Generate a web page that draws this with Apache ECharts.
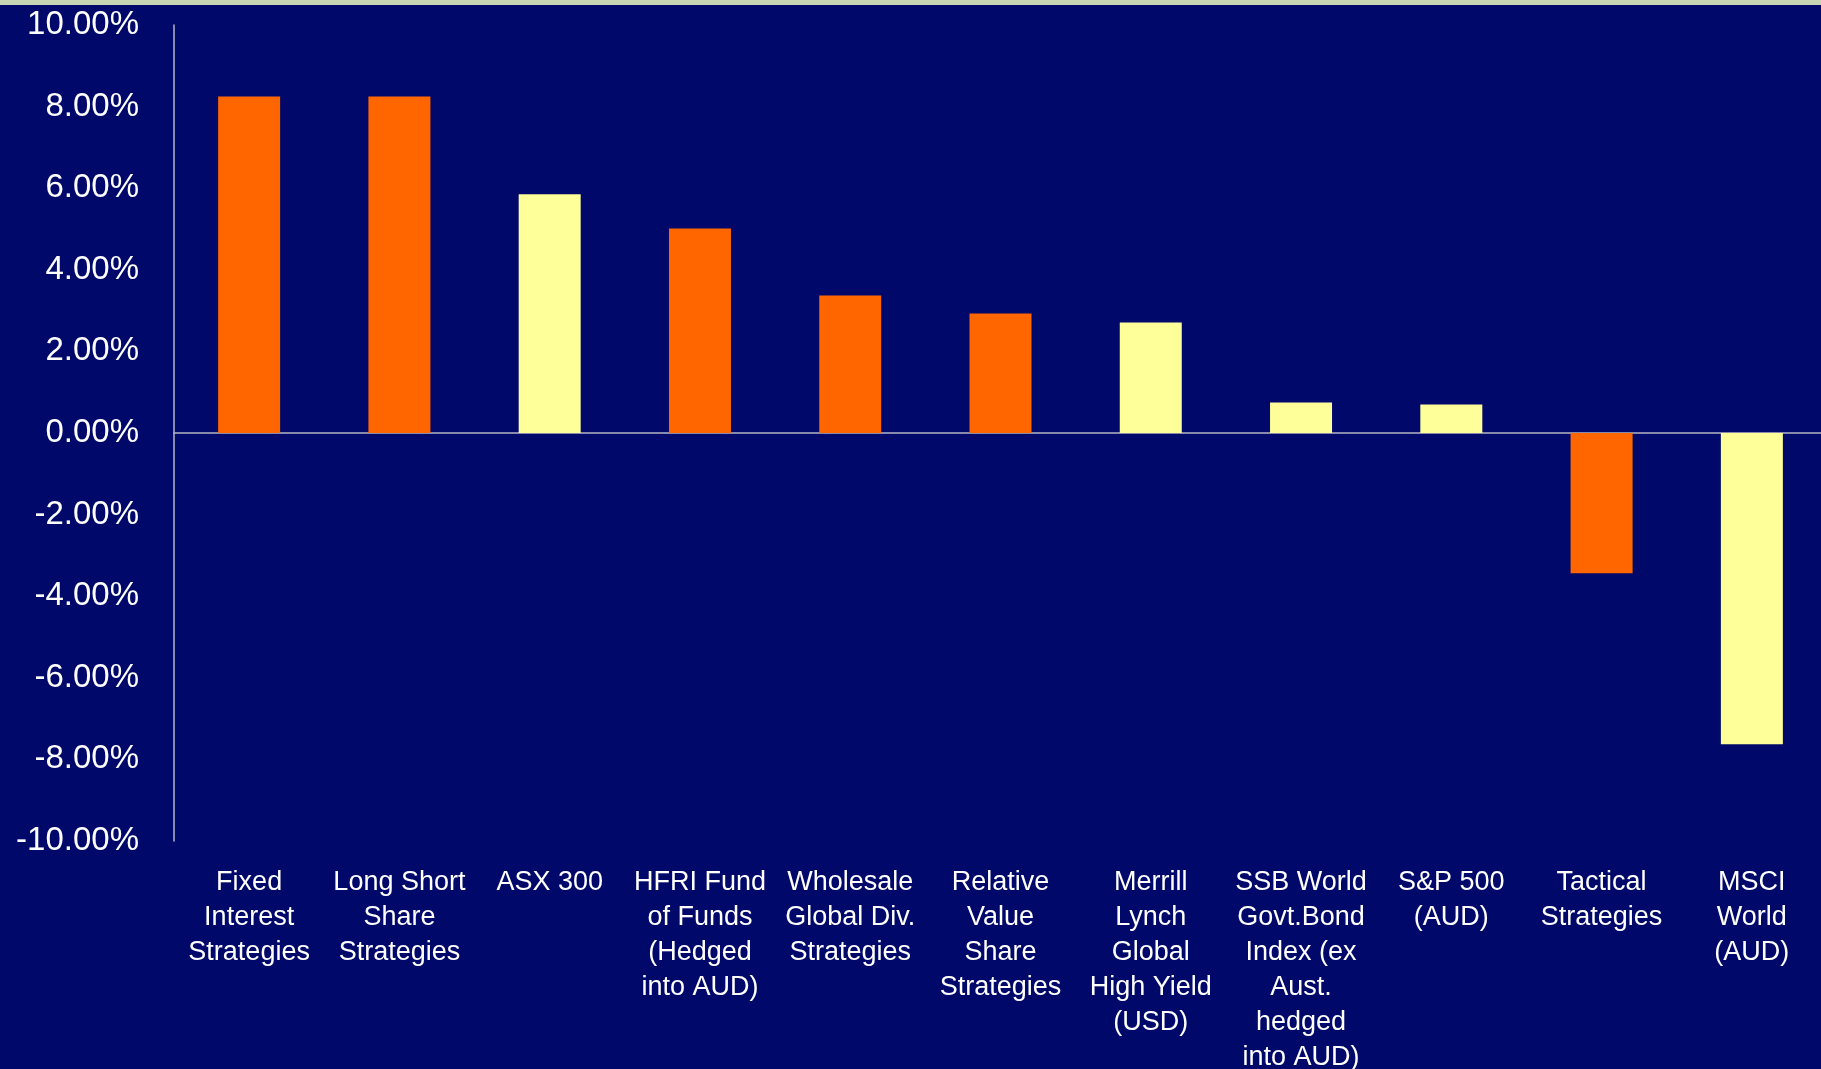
<!DOCTYPE html>
<html>
<head>
<meta charset="utf-8">
<script src="https://cdn.jsdelivr.net/npm/echarts@6/dist/echarts.min.js"></script>
<style>
html,body{margin:0;padding:0;background:#00086A;}
#chart{width:1821px;height:1069px;}
</style>
</head>
<body>
<div id="chart"></div>
<script>
const categories = [
  "Fixed\nInterest\nStrategies",
  "Long Short\nShare\nStrategies",
  "ASX 300",
  "HFRI Fund\nof Funds\n(Hedged\ninto AUD)",
  "Wholesale\nGlobal Div.\nStrategies",
  "Relative\nValue\nShare\nStrategies",
  "Merrill\nLynch\nGlobal\nHigh Yield\n(USD)",
  "SSB World\nGovt.Bond\nIndex (ex\nAust.\nhedged\ninto AUD)",
  "S&P 500\n(AUD)",
  "Tactical\nStrategies",
  "MSCI\nWorld\n(AUD)"
];
const values = [8.25, 8.25, 5.85, 5.01, 3.37, 2.93, 2.71, 0.75, 0.70, -3.44, -7.63];
const groups = ["strategy", "strategy", "index", "strategy", "strategy", "strategy", "index", "index", "index", "strategy", "index"];
const yTicks = [-10, -8, -6, -4, -2, 0, 2, 4, 6, 8, 10];

const groupColors = { strategy: "#FF6600", index: "#FFFF99" };
const axisGrey = "#B4B4C4";

const chart = echarts.init(document.getElementById("chart"), null, { renderer: "canvas" });
chart.setOption({
  backgroundColor: "#00086A",
  animation: false,
  graphic: [{
    type: "rect",
    left: 0, top: 0,
    shape: { width: 1821, height: 5 },
    style: { fill: "#C8D6B6" },
    z: 100
  }],
  grid: { left: 174, top: 25, width: 1653, height: 816, containLabel: false, outerBoundsMode: "none" },
  xAxis: [
    {
      type: "category",
      data: categories,
      position: "bottom",
      axisLine: { show: false, onZero: false },
      axisTick: { show: false },
      axisLabel: {
        color: "#FFFFFF",
        fontFamily: "Liberation Sans, Arial, sans-serif",
        fontSize: 27,
        lineHeight: 35,
        margin: 24,
        interval: 0,
        align: "center",
        verticalAlign: "top"
      }
    },
    {
      type: "category",
      data: categories,
      position: "bottom",
      axisLine: { show: true, onZero: true, lineStyle: { color: axisGrey, width: 1.5 } },
      axisTick: { show: false },
      axisLabel: { show: false }
    }
  ],
  yAxis: {
    type: "value",
    min: yTicks[0],
    max: yTicks[yTicks.length - 1],
    interval: 2,
    axisLine: { show: true, lineStyle: { color: axisGrey, width: 1.5 } },
    axisTick: { show: false },
    splitLine: { show: false },
    axisLabel: {
      color: "#FFFFFF",
      fontFamily: "Liberation Sans, Arial, sans-serif",
      fontSize: 33,
      margin: 35,
      padding: [12, 0, 0, 0],
      formatter: v => v.toFixed(2) + "%"
    }
  },
  series: [{
    type: "bar",
    xAxisIndex: 0,
    data: values.map((v, i) => ({ value: v, itemStyle: { color: groupColors[groups[i]] } })),
    barWidth: 62,
    z: 1
  }]
});
</script>
</body>
</html>
